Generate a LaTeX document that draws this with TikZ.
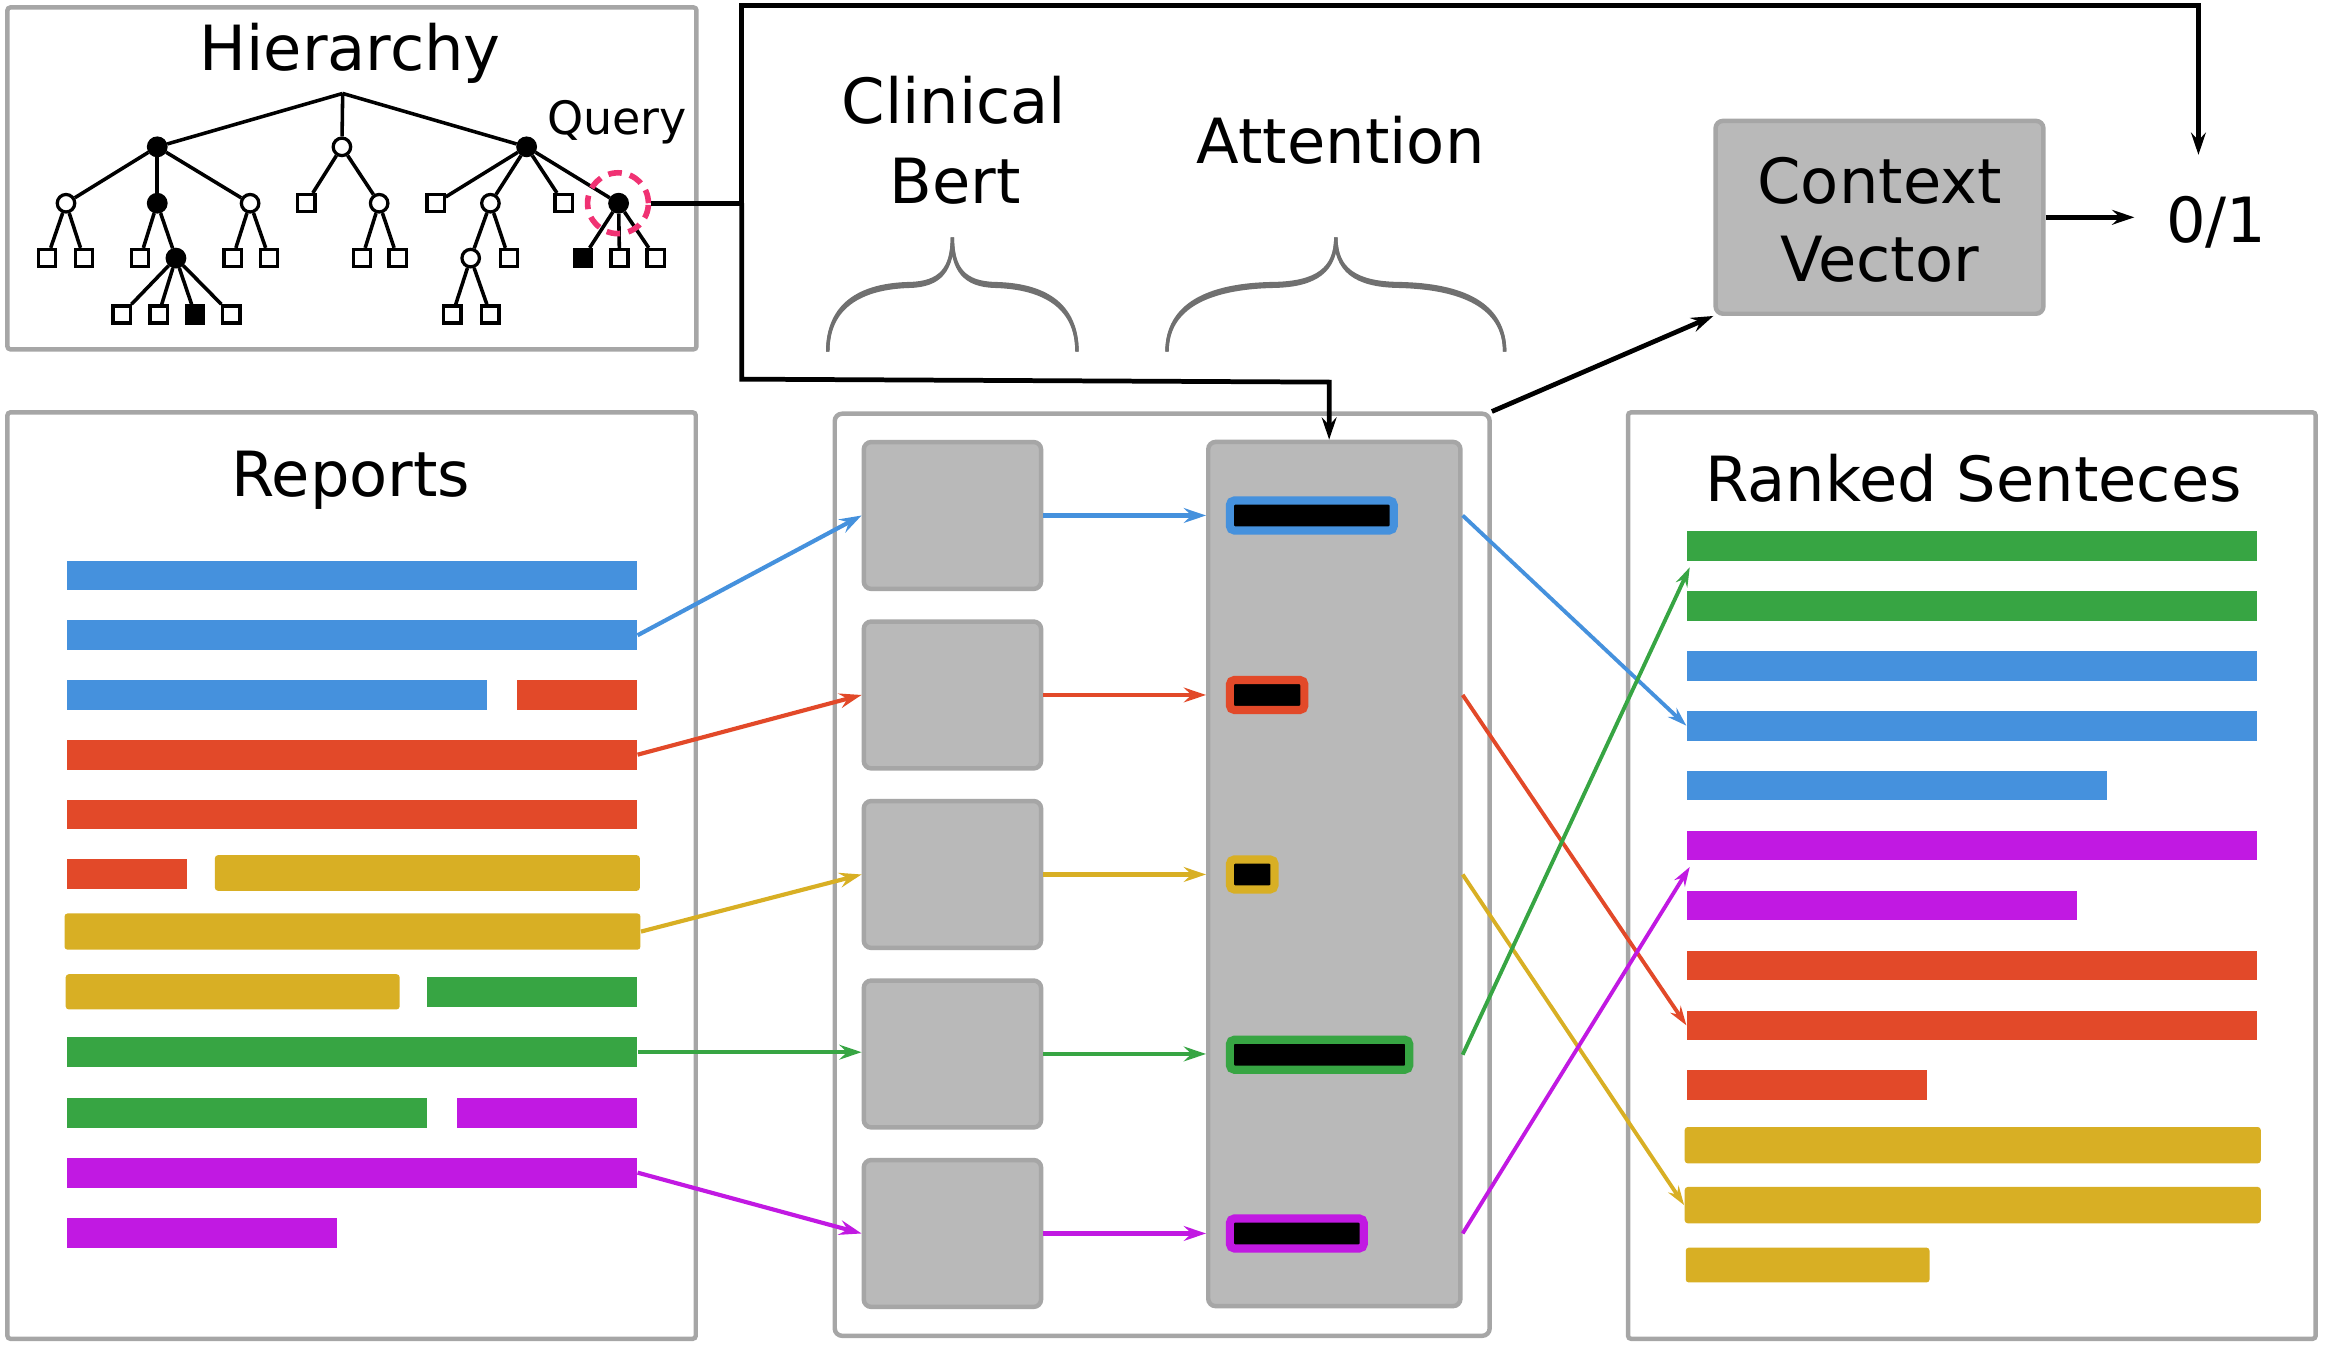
\documentclass[tikz,border=0pt]{standalone}
\usepackage{fontspec}
\setmainfont{DejaVu Sans}
\usetikzlibrary{arrows.meta,calc}
\definecolor{cblue}{RGB}{69,145,221}
\definecolor{cred}{RGB}{226,73,41}
\definecolor{cyel}{RGB}{216,175,36}
\definecolor{cgreen}{RGB}{55,165,67}
\definecolor{cpurp}{RGB}{193,25,226}
\definecolor{gfill}{RGB}{185,185,185}
\definecolor{gline}{RGB}{166,166,166}
\definecolor{bracec}{RGB}{112,112,112}
\definecolor{qpink}{RGB}{240,50,115}
\newcommand{\mkbar}[6]{\node[barnode, fill=#2, minimum width={(#4-#3)*0.5pt}, minimum height={#6*0.5pt}] (#1) at ({(#3+#4)/2},#5) {};}
\begin{document}
\begin{tikzpicture}[x=0.5pt,y=-0.5pt,
  panel/.style={draw=gline, line width=1.5pt, rounded corners=1pt},
  graybox/.style={rectangle, draw=gline, fill=gfill, line width=1.5pt, rounded corners=2.5pt, inner sep=0},
  barnode/.style={rectangle, inner sep=0, draw=none},
  attbar/.style={rectangle, inner sep=0, fill=black, line width=2.75pt, rounded corners=1.5pt, anchor=west, minimum height=10.1pt},
  txt/.style={font=\fontsize{21}{25}\selectfont, inner sep=0, anchor=base},
  tc/.style={circle, draw, line width=1.1pt, minimum size=5.9pt, inner sep=0, fill=white},
  tf/.style={tc, fill=black},
  ts/.style={rectangle, draw, line width=1.1pt, minimum size=5.8pt, inner sep=0, fill=white},
  tsf/.style={ts, fill=black},
  tedge/.style={line width=1.2pt},
  blk/.style={line width=1.6pt, line join=miter},
  arr/.style={-{Stealth[length=7.5pt,width=5pt,inset=2.6pt]}},
  arrs/.style={-{Stealth[length=6.5pt,width=4.2pt,inset=2.2pt]}},
  cl/.style={line width=1.4pt},
  bracest/.style={draw=bracec, line width=1.15pt, line cap=butt}
]
\useasboundingbox (0,0) rectangle (1568,908);

% ---------- panels ----------
\draw[panel] (5,5) rectangle (469.5,235.5);
\draw[panel] (5,278) rectangle (469,902.5);
\draw[panel] (1097.5,278) rectangle (1561,902.5);

% ---------- hierarchy ----------
\node[txt] (thier) at (236,47.6) {Hierarchy};
\node[font=\fontsize{15.5}{18}\selectfont, inner sep=0, anchor=base] (tquery) at (416,90.7) {Query};
\coordinate (root) at (231,63);
\node[tf] (a) at (106,99) {};
\node[tc] (b) at (230.5,99) {};
\node[tf] (c) at (355,99) {};
\node[tc] (a1) at (44.5,137) {};
\node[tf] (a2) at (106,137) {};
\node[tc] (a3) at (168.6,137) {};
\node[ts] (b1) at (206.5,137) {};
\node[tc] (b2) at (255.6,137) {};
\node[ts] (c1) at (293.6,137) {};
\node[tc] (c2) at (330.6,137) {};
\node[ts] (c3) at (380,137) {};
\node[tf] (c4) at (417,137) {};
\node[ts] (a11) at (31.8,174) {};
\node[ts] (a12) at (56.5,174) {};
\node[ts] (a21) at (94.5,174) {};
\node[tf] (a22) at (118.6,174) {};
\node[ts] (a31) at (156.8,174) {};
\node[ts] (a32) at (181.5,174) {};
\node[ts] (b21) at (244,174) {};
\node[ts] (b22) at (268,174) {};
\node[tc] (c21) at (317.3,174) {};
\node[ts] (c22) at (343,174) {};
\node[tsf] (c41) at (393,174) {};
\node[ts] (c42) at (417.6,174) {};
\node[ts] (c43) at (442,174) {};
\node[ts] (a221) at (82,212) {};
\node[ts] (a222) at (106.9,212) {};
\node[tsf] (a223) at (131.5,212) {};
\node[ts] (a224) at (156,212) {};
\node[ts] (c211) at (305,212) {};
\node[ts] (c212) at (330.6,212) {};
\foreach \p/\q in {root/a,root/b,root/c,a/a1,a/a2,a/a3,b/b1,b/b2,c/c1,c/c2,c/c3,c/c4,
  a1/a11,a1/a12,a2/a21,a2/a22,a3/a31,a3/a32,b2/b21,b2/b22,c2/c21,c2/c22,c4/c41,c4/c42,c4/c43,
  a22/a221,a22/a222,a22/a223,a22/a224,c21/c211,c21/c212}
  \draw[tedge] (\p) -- (\q);
\node[circle, draw=qpink, line width=1.9pt, dash pattern=on 4.6pt off 2.8pt, minimum size=20.5pt, inner sep=0] (qc) at (416.6,137) {};

% ---------- top connectors ----------
\coordinate (J) at (500,137);
\coordinate (Tr) at (1482,3.5);
\coordinate (Tend) at (1482,104.4);
\coordinate (Bl) at (500,255.6);
\coordinate (Br) at (896,257.6);
\draw[blk] (qc.east) -- (J);
\draw[blk, arr] (J) |- (Tr) -- (Tend);

% ---------- middle ----------
\node[rectangle, draw=gline, fill=white, line width=1.5pt, rounded corners=2.5pt, minimum width=220.75pt, minimum height=310.8pt, inner sep=0] (mid) at (783.45,589.7) {};
\foreach \i/\y in {1/347.5,2/468.5,3/589.5,4/710.5,5/831.5}
  \node[graybox, minimum width=59.75pt, minimum height=49.5pt] (B\i) at (642.05,\y) {};
\node[graybox, minimum width=85pt, minimum height=291.3pt] (att) at (899.5,589.2) {};
\node[attbar, draw=cblue, minimum width=55.2pt] (A1) at (826.35,347.5) {};
\node[attbar, draw=cred, minimum width=25.1pt] (A2) at (826.35,468.5) {};
\node[attbar, draw=cyel, minimum width=15.05pt] (A3) at (826.35,589.5) {};
\node[attbar, draw=cgreen, minimum width=60.45pt] (A4) at (826.35,711) {};
\node[attbar, draw=cpurp, minimum width=45.1pt] (A5) at (826.35,831.5) {};
\draw[blk, arr] (J) -- (Bl) -- (Br) -- (att.north -| Br);

\node[txt] (tclin) at (643,83.5) {Clinical};
\node[txt] (tbert) at (644,137) {Bert};
\node[txt] (tatt) at (903.8,110) {Attention};
% braces (two strokes: thicker at the shoulders)
\draw[bracest] (558,237) .. controls (558,207) and (580,194) .. (613,193) .. controls (634,192.5) and (642,182) .. (642,160) .. controls (642,182) and (650,192.5) .. (671,193) .. controls (704,194) and (726,207) .. (726,237);
\draw[bracest] (558,237) .. controls (558,205) and (580,192) .. (613,191.2) .. controls (634,190.8) and (642,181) .. (642,160) .. controls (642,181) and (650,190.8) .. (671,191.2) .. controls (704,192) and (726,205) .. (726,237);
\draw[bracest] (786.7,237) .. controls (786.7,207) and (815,194) .. (858,193) .. controls (888,192.5) and (900.5,182) .. (900.5,160) .. controls (900.5,182) and (913,192.5) .. (943,193) .. controls (986,194) and (1014.3,207) .. (1014.3,237);
\draw[bracest] (786.7,237) .. controls (786.7,205) and (815,192) .. (858,191.2) .. controls (888,190.8) and (900.5,181) .. (900.5,160) .. controls (900.5,181) and (913,190.8) .. (943,191.2) .. controls (986,192) and (1014.3,205) .. (1014.3,237);

\foreach \i/\c in {1/cblue,2/cred,3/cyel,4/cgreen,5/cpurp}
  \draw[cl, draw=\c, arr] (B\i.east) -- (B\i.east -| att.west);

% ---------- context vector ----------
\node[graybox, minimum width=110.5pt, minimum height=65pt] (cv) at (1267,146.5) {};
\node[txt] (tctx) at (1267,137) {Context};
\node[txt] (tvec) at (1267,190) {Vector};
\node[txt] (o1) at (1494,163.7) {0/1};
\draw[blk, arr, shorten >=10.5pt] (cv.east) -- (cv.east -| o1.west);
\draw[blk, arr] (mid.north east) -- (cv.south west);

% ---------- reports ----------
\node[txt] (trep) at (236.5,334.7) {Reports};
\mkbar{L1}{cblue}{45}{429.4}{388}{20}
\mkbar{L2}{cblue}{45}{429.4}{428.25}{20}
\mkbar{L3a}{cblue}{45}{328.4}{468.5}{20}
\mkbar{L3b}{cred}{348.5}{429.4}{468.5}{20}
\mkbar{L4}{cred}{45}{429.4}{508.75}{20}
\mkbar{L5}{cred}{45}{429.4}{549}{20}
\mkbar{L6a}{cred}{45}{126}{589.25}{20}
\begin{scope}[barnode/.append style={rounded corners=1pt}]
\mkbar{L6b}{cyel}{144.9}{431.3}{588.5}{24}
\mkbar{L7}{cyel}{43.5}{431.7}{628}{24.4}
\mkbar{L8a}{cyel}{44.3}{269.4}{668.6}{23.7}
\end{scope}
\mkbar{L8b}{cgreen}{288}{429.4}{668.6}{20.3}
\mkbar{L9}{cgreen}{45}{429.4}{709.3}{20.3}
\mkbar{L10a}{cgreen}{45}{288}{750}{20.3}
\mkbar{L10b}{cpurp}{308}{429.4}{750}{20.3}
\mkbar{L11}{cpurp}{45}{429.4}{790.5}{20.3}
\mkbar{L12}{cpurp}{45}{227}{831.2}{20.3}

\draw[cl, draw=cblue, arr] (L2.east) -- (B1.west);
\draw[cl, draw=cred, arr] (L4.east) -- (B2.west);
\draw[cl, draw=cyel, arr] (L7.east) -- (B3.west);
\draw[cl, draw=cgreen, arr] (L9.east) -- (L9.east -| B4.west);
\draw[cl, draw=cpurp, arr] (L11.east) -- (B5.west);

% ---------- ranked ----------
\node[txt] (trank) at (1330.6,338.2) {Ranked Senteces};
\mkbar{R1}{cgreen}{1137.2}{1521.4}{368}{20}
\mkbar{R2}{cgreen}{1137.2}{1521.4}{408.4}{20}
\mkbar{R3}{cblue}{1137.2}{1521.4}{448.8}{20}
\mkbar{R4}{cblue}{1137.2}{1521.4}{489.2}{20}
\mkbar{R5}{cblue}{1137.2}{1420.4}{529.6}{20}
\mkbar{R6}{cpurp}{1137.2}{1521.4}{570}{20}
\mkbar{R7}{cpurp}{1137.2}{1400.1}{610.4}{20}
\mkbar{R8}{cred}{1137.2}{1521.4}{650.8}{20}
\mkbar{R9}{cred}{1137.2}{1521.4}{691.2}{20}
\mkbar{R10}{cred}{1137.2}{1299}{731.6}{20}
\begin{scope}[barnode/.append style={rounded corners=1pt}]
\mkbar{R11}{cyel}{1135.7}{1524}{772}{24.5}
\mkbar{R12}{cyel}{1135.7}{1524}{812.4}{24.5}
\mkbar{R13}{cyel}{1136.4}{1300.7}{852.8}{23.5}
\end{scope}
\coordinate (G1) at ($(R1.south west)+(2.3,4)$);
\coordinate (P1) at ($(R6.south west)+(2.3,4)$);
\draw[line width=1.3pt, draw=cblue, arrs] (att.east |- A1) -- (R4.west);
\draw[line width=1.3pt, draw=cred, arrs] (att.east |- A2) -- (R9.west);
\draw[line width=1.3pt, draw=cyel, arrs] (att.east |- A3) -- (R12.west);
\draw[line width=1.3pt, draw=cgreen, arrs] (att.east |- A4) -- (G1);
\draw[line width=1.3pt, draw=cpurp, arrs] (att.east |- A5) -- (P1);
\end{tikzpicture}
\end{document}
